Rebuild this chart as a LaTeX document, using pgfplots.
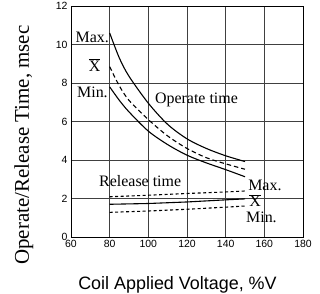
\documentclass[border=0pt]{standalone}
\usepackage{pgfplots}
\pgfplotsset{compat=1.18}
\usepackage{fontspec}
\setmainfont{Liberation Serif}
\newfontfamily\arial{Liberation Sans}
\tikzset{lbl/.style={font=\fontsize{16}{17}\selectfont, inner sep=0pt}}
\begin{document}
\begin{tikzpicture}
\begin{axis}[
 scale only axis, width=232bp, height=231bp,
 xmin=60,xmax=180,ymin=0,ymax=12,
 xtick={60,80,...,180}, ytick={0,2,...,12},
 grid=major, major grid style={black!75, line width=0.6pt},
 axis line style={black, line width=0.9pt},
 major tick length=0pt,
 tick label style={font=\arial\fontsize{10.5}{11}\selectfont},
 /pgf/number format/assume math mode=true,
 xlabel={Coil Applied Voltage, \%V},
 xlabel style={font=\arial\fontsize{18}{20}\selectfont, at={(axis description cs:0.459,-0.208)}, anchor=center},
 ylabel={Operate/Release Time, msec},
 ylabel style={font=\fontsize{21}{23}\selectfont, at={(axis description cs:-0.203,0.398)}, anchor=center},
 clip mode=individual,
]
\coordinate (sw) at (rel axis cs:0,0);
% operate time
\addplot[black, line width=1.1pt, smooth] coordinates {(80,10.6) (85,9.3) (90,8.35) (100,6.95) (110,5.85) (120,5.1) (130,4.6) (140,4.22) (150,3.92)};
\addplot[black, line width=1.1pt, smooth, dash pattern=on 4.5bp off 3bp] coordinates {(80,8.85) (85,7.85) (90,7.1) (100,6.1) (110,5.25) (120,4.6) (130,4.12) (140,3.8) (150,3.52)};
\addplot[black, line width=1.1pt, smooth] coordinates {(80,7.8) (85,7.1) (90,6.5) (100,5.5) (110,4.8) (120,4.25) (130,3.85) (140,3.5) (150,3.13)};
% release time
\addplot[black, line width=1.1pt, dash pattern=on 3bp off 2.5bp] coordinates {(80,2.09) (100,2.17) (120,2.26) (140,2.34) (150,2.39)};
\addplot[black, line width=1.1pt] coordinates {(80,1.70) (100,1.74) (120,1.82) (140,1.93) (150,1.98)};
\addplot[black, line width=1.1pt, dash pattern=on 3bp off 2.5bp] coordinates {(80,1.28) (100,1.35) (120,1.44) (140,1.55) (150,1.61)};
% labels
\node[lbl, anchor=base east] at (axis cs:79.7,10.08) {Max.};
\node[lbl, anchor=base] at (axis cs:72.2,8.62) {$\overline{\mbox{X}}$};
\node[lbl, anchor=base east] at (axis cs:79.1,7.27) {Min.};
\node[lbl, anchor=base west] at (axis cs:103.4,6.96) {Operate time};
\node[lbl, anchor=base west] at (axis cs:74.5,2.61) {Release time};
\node[lbl, anchor=base west] at (axis cs:151.6,2.44) {Max.};
\node[lbl, anchor=base west] at (axis cs:152.1,1.57) {$\overline{\mbox{X}}$};
\node[lbl, anchor=base west] at (axis cs:150.5,0.74) {Min.};
\end{axis}
\pgfresetboundingbox
\path[use as bounding box] (sw) ++(-71bp,-57bp) rectangle ++(320bp,294bp);
\end{tikzpicture}
\end{document}
